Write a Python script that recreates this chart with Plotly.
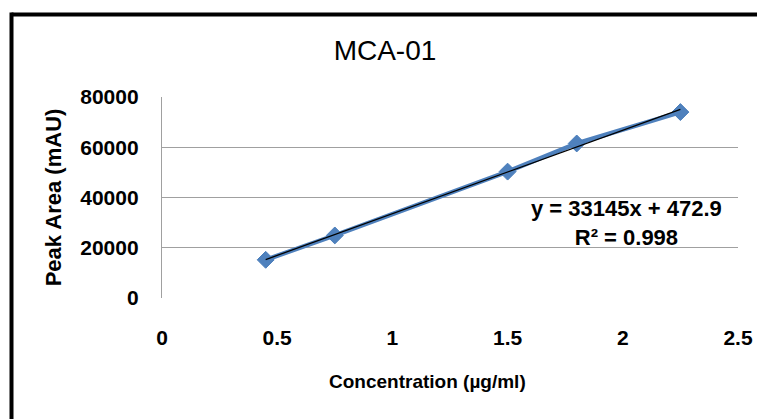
import numpy as np
import plotly.graph_objects as go

concentration = [0.45, 0.75, 1.5, 1.8, 2.25]
peak_area = [15200, 24900, 50300, 61500, 74000]
y_ticks = [0, 20000, 40000, 60000, 80000]
y_tick_text = ["0", "20000", "40000", "60000", "80000"]
x_ticks = [0, 0.5, 1, 1.5, 2, 2.5]
x_tick_text = ["0", "0.5", "1", "1.5", "2", "2.5"]
equation_text = "y = 33145x + 472.9<br>R² = 0.998"
x_title = "Concentration (µg/ml)"
y_title = "Peak Area (mAU)"
chart_title = "MCA-01"

slope, intercept = np.polyfit(concentration, peak_area, 1)
fit_x = [min(concentration), max(concentration)]
fit_y = [slope * v + intercept for v in fit_x]

# browser body margin offsets the figure by 8px; compensate
OFF = 8
W, H = 765 - OFF, 419 - OFF
L, R, T, B = 162 - OFF, 738 - OFF, 97 - OFF, 298 - OFF

def px_x(p):
    return (p - OFF - L) / (R - L)

def px_y(p):
    return (B - (p - OFF)) / (B - T)

fig = go.Figure()
fig.add_trace(go.Scatter(
    x=concentration, y=peak_area, mode="lines+markers",
    line=dict(color="#4f81bd", width=4.5),
    marker=dict(symbol="diamond", size=13, color="#4f81bd",
                line=dict(color="#4a7ebb", width=1)),
    showlegend=False, cliponaxis=False))
fig.add_trace(go.Scatter(
    x=fit_x, y=fit_y, mode="lines",
    line=dict(color="#000000", width=1.3),
    showlegend=False, cliponaxis=False))

font_family = "Liberation Sans, Arial, sans-serif"

fig.update_layout(
    width=W, height=H,
    margin=dict(l=L, r=W - R, t=T, b=H - B, pad=0),
    paper_bgcolor="white", plot_bgcolor="white",
    font=dict(family=font_family, color="#000000"),
    title=dict(text=chart_title, x=(385 - OFF) / W, xref="container", xanchor="center",
               y=1 - (50 - OFF) / H, yref="container", yanchor="middle",
               font=dict(size=28, family=font_family, color="#000000")),
    xaxis=dict(range=[0, 2.5], tickvals=x_ticks, ticktext=x_tick_text,
               showgrid=False, zeroline=False, showline=False,
               ticks="", ticklabelstandoff=25,
               tickfont=dict(size=21, family=font_family, weight="bold")),
    yaxis=dict(range=[0, 80000], tickvals=y_ticks, ticktext=y_tick_text,
               showgrid=True, gridcolor="#a0a0a0", gridwidth=1.3,
               zeroline=False, showline=True, linecolor="#a0a0a0", linewidth=1.3,
               ticks="", ticklabelstandoff=18,
               tickfont=dict(size=21, family=font_family, weight="bold"),
               title=dict(text="<b>" + y_title + "</b>", standoff=12,
                          font=dict(size=22, family=font_family))),
    annotations=[
        dict(text=equation_text, x=2.018, y=30000, xref="x", yref="y",
             showarrow=False, align="center",
             font=dict(size=22, family=font_family, weight="bold")),
        dict(text="<b>" + x_title + "</b>", x=px_x(427), y=px_y(381),
             xref="paper", yref="paper", xanchor="center", yanchor="middle",
             showarrow=False, font=dict(size=19, family=font_family)),
    ],
)

fig.add_shape(type="line", xref="paper", yref="paper",
              x0=px_x(11.5), x1=px_x(800), y0=px_y(14.5), y1=px_y(14.5),
              line=dict(color="black", width=4))
fig.add_shape(type="line", xref="paper", yref="paper",
              x0=px_x(11.5), x1=px_x(11.5), y0=px_y(12.5), y1=px_y(450),
              line=dict(color="black", width=4))

fig.write_html("out.html")
